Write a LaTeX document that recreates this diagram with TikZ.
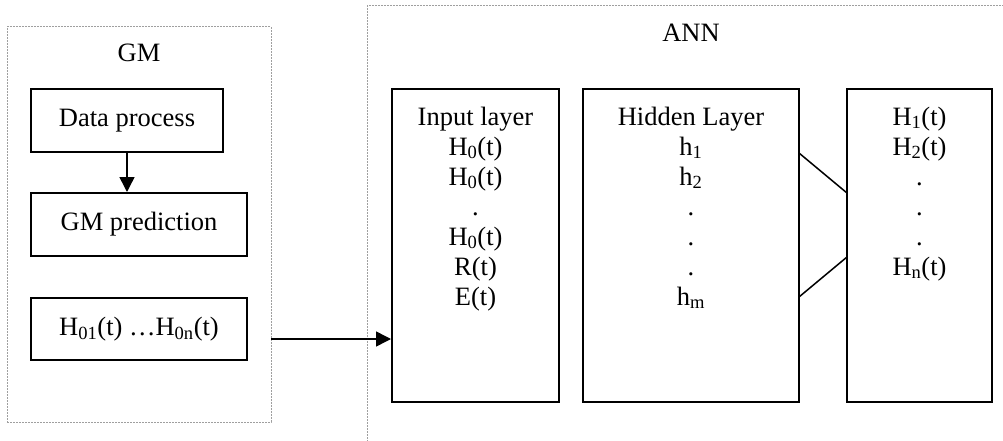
\documentclass[tikz,border=0pt]{standalone}
\usepackage{fontspec}
\setmainfont{Liberation Serif}
\usetikzlibrary{arrows.meta}
\begin{document}
\begin{tikzpicture}[x=1pt,y=-1pt,
  box/.style={draw=black,line width=2pt,inner sep=0pt,font=\fontsize{26.5}{30}\selectfont},
  grp/.style={draw=gray!75,line width=1pt,dash pattern=on 2pt off 1pt},
  col/.style={font=\fontsize{26.5}{30}\selectfont,inner sep=0pt,align=center,anchor=north},
  lbl/.style={font=\fontsize{26.5}{30}\selectfont,inner sep=0pt},
  conn/.style={line width=1.5pt},
  arr/.style={line width=1.5pt,-{Triangle[length=15pt,width=15pt]}}]
\useasboundingbox (0,0) rectangle (1003,441);
% group frames
\node[grp,minimum width=264pt,minimum height=395pt,inner sep=0pt] (gm) at (139,224.5) {};
\draw[grp] (1010,6) -- (367,6) -- (367,450);
\node[lbl] (gmlbl) at (139,53) {GM};
\node[lbl] (annlbl) at (691,33) {ANN};
% GM boxes
\node[box,minimum width=192pt,minimum height=63pt] (dp) at (127,120.5) {Data process};
\node[box,minimum width=216pt,minimum height=63pt] (gmp) at (139,224.5) {GM prediction};
\node[box,minimum width=216pt,minimum height=62pt] (hz) at (139,329) {H\textsubscript{01}(t) …H\textsubscript{0n}(t)};
% ANN boxes
\node[box,minimum width=167pt,minimum height=313pt] (inp) at (475.5,245.5) {};
\node[box,minimum width=216pt,minimum height=313pt] (hid) at (691,245.5) {};
\node[box,minimum width=145pt,minimum height=313pt] (out) at (919.5,245.5) {};
\node[col] (inpt) at (475.5,104) {\strut Input layer\\H\textsubscript{0}(t)\\H\textsubscript{0}(t)\\.\\H\textsubscript{0}(t)\\R(t)\\E(t)};
\node[col] (hidt) at (691,104) {\strut Hidden Layer\\h\textsubscript{1}\\h\textsubscript{2}\\.\\.\\.\\h\textsubscript{m}};
\node[col] (outt) at (919.5,104) {\strut H\textsubscript{1}(t)\\H\textsubscript{2}(t)\\.\\.\\.\\H\textsubscript{n}(t)};
% connectors
\draw[arr] (dp.south) -- (dp.south |- gmp.north);
\coordinate (a0) at (271,339);
\draw[arr] (a0) -- (a0 -| inp.west);
\coordinate (h1) at (799,153);
\coordinate (o1) at (847,193);
\coordinate (h2) at (799,297);
\coordinate (o2) at (847,257);
\draw[conn] (h1) -- (o1);
\draw[conn] (h2) -- (o2);
\end{tikzpicture}
\end{document}
